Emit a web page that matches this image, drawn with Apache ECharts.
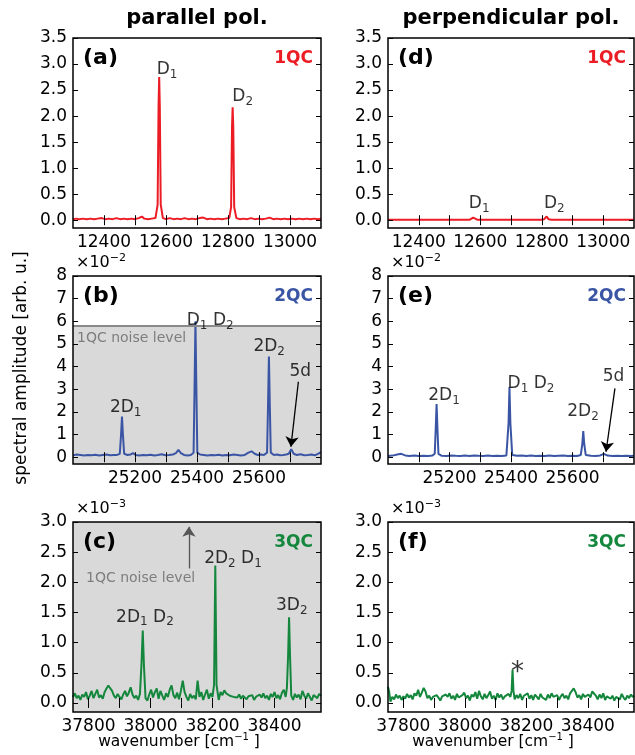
<!DOCTYPE html>
<html><head><meta charset="utf-8">
<script src="https://cdn.jsdelivr.net/npm/echarts@6/dist/echarts.min.js"></script>
<style>html,body{margin:0;padding:0;background:#fff}#c{width:635px;height:755px}</style>
</head><body><div id="c"></div><script>
// ---------------- data ----------------
// 1QC, parallel (a)
const specA = [[12300,0.02],[12310,0.03],[12320,0.02],[12332,0.03],[12344,0.02],[12356,0.03],[12368,0.02],[12380,0.03],[12392,0.04],[12404,0.02],[12416,0.03],[12428,0.02],[12440,0.04],[12452,0.02],[12464,0.03],[12476,0.02],[12488,0.03],[12500,0.02],[12512,0.04],[12522,0.07],[12530,0.03],[12542,0.02],[12554,0.03],[12566,0.04],[12573,0.3],[12576,2.2],[12578,2.75],[12580,2.2],[12583,0.3],[12590,0.04],[12600,0.02],[12612,0.04],[12624,0.02],[12636,0.03],[12648,0.02],[12660,0.04],[12672,0.02],[12684,0.03],[12696,0.02],[12708,0.04],[12720,0.05],[12732,0.02],[12744,0.03],[12756,0.02],[12768,0.03],[12780,0.02],[12792,0.03],[12804,0.04],[12810,0.25],[12813,1.8],[12815,2.17],[12817,1.8],[12820,0.25],[12827,0.04],[12838,0.02],[12850,0.03],[12862,0.02],[12874,0.04],[12886,0.02],[12898,0.03],[12910,0.02],[12922,0.03],[12934,0.05],[12946,0.02],[12958,0.03],[12970,0.02],[12982,0.03],[12994,0.02],[13006,0.03],[13018,0.02],[13030,0.03],[13042,0.02],[13054,0.03],[13066,0.02],[13078,0.03],[13090,0.02],[13100,0.03]];
// 1QC, perpendicular (d)
const specD = [[12300,0.01],[12350,0.01],[12400,0.01],[12450,0.01],[12500,0.01],[12550,0.01],[12566,0.01],[12572,0.02],[12577,0.05],[12582,0.02],[12590,0.01],[12650,0.01],[12700,0.01],[12750,0.01],[12800,0.01],[12808,0.02],[12816,0.07],[12822,0.02],[12832,0.01],[12900,0.01],[12950,0.01],[13000,0.01],[13050,0.01],[13100,0.01]];
// 2QC, parallel (b)  [x1e-2]
const specB = [[25000,0.08],[25012,0.12],[25024,0.1],[25036,0.08],[25048,0.1],[25060,0.09],[25072,0.11],[25084,0.08],[25096,0.1],[25108,0.12],[25120,0.09],[25132,0.1],[25142,0.1],[25151,0.15],[25155,1.0],[25158,1.8],[25161,1.0],[25165,0.15],[25176,0.1],[25186,0.12],[25194,0.18],[25202,0.1],[25214,0.08],[25226,0.1],[25238,0.09],[25250,0.11],[25262,0.08],[25274,0.1],[25286,0.13],[25298,0.09],[25310,0.1],[25322,0.12],[25332,0.18],[25340,0.32],[25348,0.18],[25358,0.1],[25370,0.08],[25380,0.1],[25389,0.2],[25392,3.0],[25395,6.0],[25398,3.0],[25401,0.2],[25410,0.12],[25422,0.1],[25434,0.08],[25446,0.1],[25458,0.09],[25470,0.11],[25482,0.08],[25494,0.1],[25506,0.09],[25518,0.12],[25530,0.1],[25542,0.08],[25554,0.1],[25566,0.2],[25576,0.26],[25586,0.15],[25596,0.1],[25606,0.12],[25616,0.1],[25626,0.2],[25629,2.2],[25632,4.45],[25635,2.2],[25638,0.2],[25648,0.1],[25658,0.12],[25668,0.09],[25678,0.1],[25688,0.12],[25696,0.15],[25704,0.35],[25712,0.15],[25722,0.1],[25734,0.13],[25746,0.09],[25758,0.1],[25770,0.12],[25780,0.08],[25790,0.15],[25800,0.22]];
// 2QC, perpendicular (e)  [x1e-2]
const specE = [[25000,0.05],[25015,0.07],[25030,0.12],[25043,0.15],[25056,0.08],[25070,0.05],[25085,0.07],[25100,0.05],[25115,0.06],[25130,0.05],[25145,0.08],[25152,0.15],[25155,1.2],[25158,2.35],[25161,1.2],[25164,0.15],[25175,0.06],[25190,0.05],[25205,0.08],[25220,0.06],[25235,0.05],[25250,0.07],[25265,0.05],[25280,0.08],[25295,0.06],[25310,0.05],[25325,0.07],[25340,0.05],[25355,0.06],[25370,0.05],[25385,0.08],[25392,1.5],[25395,3.1],[25398,1.5],[25404,0.1],[25420,0.06],[25435,0.08],[25450,0.05],[25465,0.07],[25480,0.05],[25495,0.06],[25510,0.05],[25525,0.08],[25540,0.05],[25555,0.06],[25570,0.07],[25585,0.05],[25600,0.06],[25615,0.05],[25627,0.1],[25632,0.6],[25635,1.15],[25638,0.6],[25643,0.1],[25660,0.06],[25675,0.05],[25690,0.08],[25702,0.15],[25714,0.07],[25730,0.05],[25745,0.06],[25760,0.05],[25775,0.06],[25790,0.05],[25800,0.06]];
// 3QC, parallel (c)  [x1e-3]
const specC = [[37750,0.10],[37756,0.16],[37762,0.08],[37768,0.12],[37774,0.05],[37780,0.14],[37786,0.10],[37792,0.18],[37798,0.06],[37804,0.12],[37810,0.20],[37816,0.08],[37822,0.15],[37828,0.22],[37834,0.09],[37840,0.13],[37846,0.07],[37852,0.18],[37858,0.24],[37864,0.29],[37870,0.27],[37876,0.20],[37882,0.12],[37888,0.08],[37894,0.15],[37900,0.10],[37906,0.06],[37912,0.14],[37918,0.20],[37924,0.11],[37930,0.17],[37936,0.26],[37942,0.14],[37948,0.08],[37954,0.12],[37960,0.05],[37966,0.15],[37971,0.65],[37975,1.20],[37979,0.60],[37984,0.08],[37990,0.04],[37996,0.14],[38002,0.22],[38008,0.09],[38014,0.18],[38020,0.24],[38026,0.07],[38032,0.20],[38038,0.12],[38044,0.05],[38050,0.16],[38056,0.10],[38062,0.22],[38068,0.29],[38074,0.13],[38080,0.08],[38086,0.17],[38092,0.06],[38098,0.20],[38104,0.37],[38110,0.18],[38116,0.10],[38122,0.04],[38128,0.15],[38134,0.08],[38140,0.12],[38146,0.06],[38152,0.37],[38158,0.10],[38164,0.18],[38170,0.05],[38176,0.14],[38182,0.22],[38188,0.07],[38194,0.16],[38200,0.10],[38205,0.30],[38209,2.28],[38213,0.30],[38220,0.05],[38226,0.18],[38232,0.13],[38238,0.21],[38244,0.16],[38250,0.19],[38256,0.12],[38262,0.15],[38268,0.10],[38274,0.13],[38280,0.09],[38286,0.14],[38292,0.07],[38298,0.12],[38304,0.10],[38310,0.06],[38316,0.11],[38322,0.08],[38328,0.13],[38334,0.05],[38340,0.10],[38346,0.07],[38352,0.14],[38358,0.09],[38364,0.16],[38370,0.08],[38376,0.12],[38382,0.05],[38388,0.15],[38394,0.10],[38400,0.18],[38406,0.08],[38412,0.13],[38418,0.06],[38424,0.17],[38430,0.22],[38436,0.10],[38440,0.25],[38444,0.80],[38447,1.42],[38450,0.80],[38454,0.12],[38460,0.05],[38466,0.15],[38472,0.09],[38478,0.14],[38484,0.06],[38490,0.20],[38496,0.12],[38502,0.07],[38508,0.16],[38514,0.10],[38520,0.04],[38526,0.13],[38532,0.16],[38538,0.08],[38544,0.15],[38550,0.12]];
// 3QC, perpendicular (f)  [x1e-3]
const specF = [[37750,0.27],[37754,0.18],[37758,0.02],[37764,0.10],[37770,0.06],[37776,0.14],[37782,0.08],[37788,0.12],[37794,0.05],[37800,0.11],[37806,0.07],[37812,0.15],[37818,0.09],[37824,0.13],[37830,0.06],[37836,0.16],[37842,0.12],[37848,0.22],[37854,0.10],[37860,0.17],[37866,0.25],[37872,0.19],[37878,0.08],[37884,0.12],[37890,0.05],[37896,0.10],[37902,0.07],[37908,0.13],[37914,0.09],[37920,0.04],[37926,0.11],[37932,0.08],[37938,0.14],[37944,0.10],[37950,0.16],[37956,0.07],[37962,0.12],[37968,0.05],[37974,0.15],[37980,0.09],[37986,0.06],[37992,0.13],[37998,0.17],[38004,0.08],[38010,0.12],[38016,0.04],[38022,0.14],[38028,0.10],[38034,0.18],[38040,0.07],[38046,0.20],[38052,0.11],[38058,0.06],[38064,0.15],[38070,0.08],[38076,0.13],[38082,0.19],[38088,0.07],[38094,0.12],[38100,0.05],[38106,0.16],[38112,0.09],[38118,0.14],[38124,0.06],[38130,0.11],[38136,0.08],[38142,0.15],[38148,0.10],[38152,0.20],[38155,0.55],[38158,0.20],[38162,0.06],[38168,0.13],[38174,0.08],[38180,0.15],[38186,0.05],[38192,0.12],[38198,0.09],[38204,0.16],[38210,0.07],[38216,0.13],[38222,0.05],[38228,0.14],[38234,0.10],[38240,0.06],[38246,0.15],[38252,0.09],[38258,0.12],[38264,0.05],[38270,0.14],[38276,0.08],[38282,0.16],[38288,0.10],[38294,0.07],[38300,0.13],[38306,0.05],[38312,0.11],[38318,0.15],[38324,0.08],[38330,0.12],[38336,0.06],[38342,0.16],[38348,0.20],[38354,0.24],[38360,0.18],[38366,0.09],[38372,0.13],[38378,0.06],[38384,0.15],[38390,0.10],[38396,0.07],[38402,0.14],[38408,0.09],[38414,0.19],[38420,0.21],[38426,0.12],[38432,0.06],[38438,0.14],[38444,0.08],[38450,0.16],[38456,0.05],[38462,0.11],[38468,0.14],[38474,0.07],[38480,0.12],[38486,0.04],[38492,0.10],[38498,0.13],[38504,0.06],[38510,0.15],[38516,0.09],[38522,0.05],[38528,0.12],[38534,0.08],[38540,0.14],[38546,0.10],[38550,0.12]];

// 1QC noise level expressed in 2QC panel units (x1e-2)
const noise1QC = 5.8;

// ticks and tick labels
const xTicks1 = [12400,12500,12600,12700,12800,12900,13000];
const xLabels1 = [12400,12600,12800,13000];
const yTicks1 = [0,0.5,1,1.5,2,2.5,3,3.5];
const xTicks2 = [25100,25200,25300,25400,25500,25600,25700];
const xLabels2 = [25200,25400,25600];
const yTicks2 = [0,1,2,3,4,5,6,7,8];
const xTicks3 = [37800,37900,38000,38100,38200,38300,38400,38500];
const xLabels3 = [37800,38000,38200,38400];
const yTicks3 = [0,0.5,1,1.5,2,2.5,3];

const titles = ['parallel pol.', 'perpendicular pol.'];
const tags = [['(a)','(b)','(c)'],['(d)','(e)','(f)']];
const qcNames = ['1QC','2QC','3QC'];

// ---------------- layout / style ----------------
const F = 'DejaVu Sans';
const QC_COLORS = ['#ec1c24', '#3b55a5', '#14873d'];
const GRAY = '#d9d9d9';
const COLL = [73, 388], COLW = [248, 246];
const ROWT = [38, 276, 522], ROWH = [190, 188, 190];
const rows = [
  {min:12300, max:13100, xt:xTicks1, xl:xLabels1, ymin:-0.15, ymax:3.5, yt:yTicks1, dec:1},
  {min:25000, max:25800, xt:xTicks2, xl:xLabels2, ymin:-0.3, ymax:8, yt:yTicks2, dec:0},
  {min:37750, max:38550, xt:xTicks3, xl:xLabels3, ymin:-0.15, ymax:3.0, yt:yTicks3, dec:1}
];
const specs = [[specA, specB, specC], [specD, specE, specF]];

const rich = {
  m: {fontSize:17, lineHeight:22, fontFamily:F, color:'#000'},
  s: {fontSize:12, lineHeight:10, verticalAlign:'bottom', fontFamily:F, color:'#000'},
  g: {fontSize:14, lineHeight:18, fontFamily:F, color:'#666'},
  a: {fontSize:26, lineHeight:26, fontFamily:F, color:'#000'}
};
// annotations per panel [col][row]: text (rich), x, y (data coords), align
const notes = [
  [
    [['{m|D}{s|1}',12570,2.885,'left'], ['{m|D}{s|2}',12814,2.37,'left']],
    [['{m|2D}{s|1}',25119,2.17,'left'], ['{m|D}{s|1}{m| D}{s|2}',25367,6.01,'left'], ['{m|2D}{s|2}',25582,4.88,'left'], ['{m|5d}',25698,3.76,'left'], ['{g|1QC noise level}',25013,5.26,'left']],
    [['{m|2D}{s|1}{m| D}{s|2}',37889,1.42,'left'], ['{m|2D}{s|2}{m| D}{s|1}',38173,2.39,'left'], ['{m|3D}{s|2}',38405,1.61,'left'], ['{g|1QC noise level}',37792,2.07,'left']]
  ],
  [
    [['{m|D}{s|1}',12563,0.31,'left'], ['{m|D}{s|2}',12807,0.31,'left']],
    [['{m|2D}{s|1}',25131,2.7,'left'], ['{m|D}{s|1}{m| D}{s|2}',25389,3.23,'left'], ['{m|2D}{s|2}',25583,2.0,'left'], ['{m|5d}',25698,3.55,'left']],
    [['{a|*}',38171,0.5,'center']]
  ]
];
const arrows = [
  [[], [[[25727,3.33],[25703,0.46],'#000']], [[[38124,2.23],[38124,2.92],'#555']]],
  [[], [[[25738,3.04],[25709,0.24],'#000']], []]
];

const grid = [], xAxis = [], yAxis = [], series = [], graphic = [];
let gi = 0;
for (let c = 0; c < 2; c++) {
  for (let r = 0; r < 3; r++) {
    const R = rows[r];
    const L = COLL[c], W = COLW[c], T = ROWT[r], H = ROWH[r];
    grid.push({left:L, top:T, width:W, height:H, show:true, borderWidth:0,
      backgroundColor: (r === 2 && c === 0) ? GRAY : 'transparent'});
    const tick = {inside:true, length:5, lineStyle:{color:'#000', width:1}};
    xAxis.push({type:'value', gridIndex:gi, min:R.min, max:R.max, position:'bottom', z:5,
      axisLine:{show:false}, splitLine:{show:false},
      axisTick:Object.assign({customValues:R.xt}, tick),
      axisLabel:{customValues:R.xl, fontSize:17, fontFamily:F, color:'#000', margin:6, formatter: v => String(v)}});
    xAxis.push({type:'value', gridIndex:gi, min:R.min, max:R.max, position:'top', z:5,
      axisLine:{show:false}, splitLine:{show:false},
      axisTick:Object.assign({customValues:R.xt}, tick), axisLabel:{show:false}});
    yAxis.push({type:'value', gridIndex:gi, min:R.ymin, max:R.ymax, position:'left', z:5,
      axisLine:{show:false}, splitLine:{show:false},
      axisTick:Object.assign({customValues:R.yt}, tick),
      axisLabel:{customValues:R.yt, fontSize:17, fontFamily:F, color:'#000', margin:6,
        formatter: v => R.dec ? Number(v).toFixed(1) : String(Math.round(v))}});
    yAxis.push({type:'value', gridIndex:gi, min:R.ymin, max:R.ymax, position:'right', z:5,
      axisLine:{show:false}, splitLine:{show:false},
      axisTick:Object.assign({customValues:R.yt}, tick), axisLabel:{show:false}});

    const s = {type:'line', xAxisIndex:2*gi, yAxisIndex:2*gi, data:specs[c][r],
      showSymbol:false, symbol:'none', animation:false, z:3,
      lineStyle:{color:QC_COLORS[r], width:2}};
    if (r === 1 && c === 0) {
      s.markArea = {silent:true, itemStyle:{color:GRAY}, data:[[{yAxis:R.ymin},{yAxis:noise1QC}]], z:1};
      s.markLine = {silent:true, symbol:'none', label:{show:false},
        lineStyle:{color:'#8a8a8a', width:2, type:'solid'}, data:[{yAxis:noise1QC}]};
    }
    series.push(s);

    const ann = {type:'scatter', xAxisIndex:2*gi, yAxisIndex:2*gi, symbolSize:0, animation:false, silent:true, z:6,
      data: notes[c][r].map(n => ({value:[n[1], n[2]],
        label:{show:true, position:'inside', color:'#000', formatter:n[0], align:n[3], verticalAlign:'middle', rich:rich}}))};
    if (arrows[c][r].length) {
      ann.markLine = {silent:true, symbol:['none','arrow'], symbolSize:10, label:{show:false}, animation:false,
        data: arrows[c][r].map(a => [{coord:a[0], lineStyle:{color:a[2], width:1.3, type:'solid'}, itemStyle:{color:a[2]}},
                                      {coord:a[1], itemStyle:{color:a[2]}}])};
    }
    series.push(ann);

    // frame
    graphic.push({type:'rect', z:100, silent:true, shape:{x:L, y:T, width:W, height:H},
      style:{fill:null, stroke:'#000', lineWidth:1.5}});
    // panel tag
    graphic.push({type:'text', z:101, x:L+10, y:T+20, style:{text:tags[c][r], fill:'#000',
      font:'bold 22px "DejaVu Sans"', align:'left', verticalAlign:'middle'}});
    graphic.push({type:'text', z:101, x:L+W-8, y:T+21, style:{text:qcNames[r], fill:QC_COLORS[r],
      font:'bold 17px "DejaVu Sans"', align:'right', verticalAlign:'middle'}});
    if (r > 0) {
      graphic.push({type:'text', z:101, x:L+3, y:T-13, style:{
        text:'{m|×10}{p|−' + (r === 1 ? '2' : '3') + '}', align:'left', verticalAlign:'middle',
        rich:{m:{fontSize:16, lineHeight:20, fontFamily:F, fill:'#000'}, p:{fontSize:11, lineHeight:10, verticalAlign:'top', fontFamily:F, fill:'#000'}}}});
    }
    if (r === 0) {
      graphic.push({type:'text', z:101, x:L+W/2, y:19, style:{text:titles[c], fill:'#000',
        font:'bold 21px "DejaVu Sans"', align:'center', verticalAlign:'middle'}});
    }
    if (r === 2) {
      graphic.push({type:'text', z:101, x:L+W/2-18, y:742, style:{
        text:'{m|wavenumber [cm}{p|−1}{m| ]}', align:'center', verticalAlign:'middle',
        rich:{m:{fontSize:15.5, lineHeight:20, fontFamily:F, fill:'#000'}, p:{fontSize:10, lineHeight:10, verticalAlign:'top', fontFamily:F, fill:'#000'}}}});
    }
    gi++;
  }
}
graphic.push({type:'text', z:101, x:22, y:368, rotation:Math.PI/2, style:{text:'spectral amplitude [arb. u.]',
  fill:'#000', font:'17px "DejaVu Sans"', align:'center', verticalAlign:'middle'}});

const chart = echarts.init(document.getElementById('c'), null, {renderer:'canvas'});
chart.setOption({animation:false, textStyle:{fontFamily:F}, grid, xAxis, yAxis, series, graphic});
</script></body></html>
